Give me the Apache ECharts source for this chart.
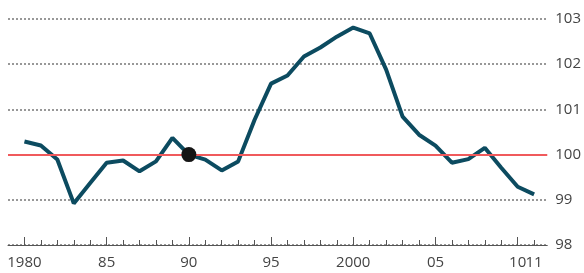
<!DOCTYPE html>
<html>
<head>
<meta charset="utf-8">
<script src="https://cdn.jsdelivr.net/npm/echarts@6/dist/echarts.min.js"></script>
<style>
  html, body { margin: 0; padding: 0; background: #fff; }
  #chart { width: 584px; height: 273px; }
</style>
</head>
<body>
<div id="chart"></div>
<script>
var years = [1980, 1981, 1982, 1983, 1984, 1985, 1986, 1987, 1988, 1989,
  1990, 1991, 1992, 1993, 1994, 1995, 1996, 1997, 1998, 1999,
  2000, 2001, 2002, 2003, 2004, 2005, 2006, 2007, 2008, 2009, 2010, 2011];
var values = [100.29, 100.2, 99.89, 98.92, 99.37, 99.82, 99.87, 99.63, 99.85, 100.37,
  100.0, 99.89, 99.65, 99.85, 100.77, 101.57, 101.75, 102.17, 102.37, 102.61,
  102.81, 102.68, 101.88, 100.84, 100.44, 100.2, 99.82, 99.9, 100.15, 99.71, 99.29, 99.12];
var labelYears = [1980, 1985, 1990, 1995, 2000, 2005, 2010];
var lastLabelYears = [2011];
var majorTicks = [1980, 1985, 1990, 1995, 2000, 2005, 2010];
var baseYear = 1990;
var baseValue = 100;

var chart = echarts.init(document.getElementById('chart'));

function yearLabel(v) {
  if (v === 1980 || v === 2000) return String(v);
  return String(v).slice(2);
}

var txt = { color: '#444', fontSize: 15, fontFamily: 'Open Sans' };

// extra axis only for the "11" label, it sits right next to "10"
function overlayAxis(extra) {
  return Object.assign({
    type: 'value',
    min: 1979,
    max: 2011.8,
    interval: 1,
    position: 'bottom',
    axisLine: { show: false },
    axisTick: { show: false },
    axisLabel: { show: false },
    splitLine: { show: false }
  }, extra);
}

chart.setOption({
  animation: false,
  grid: { left: 8, right: 31, top: 19, bottom: 28 },
  xAxis: [
    {
      type: 'value',
      min: 1979,
      max: 2011.8,
      interval: 1,
      axisLine: { show: true, lineStyle: { color: '#555', width: 1 } },
      axisTick: { show: true, inside: true, length: 5, customValues: years, lineStyle: { color: '#555' } },
      axisLabel: Object.assign({ customValues: labelYears, formatter: yearLabel, margin: 10 }, txt),
      splitLine: { show: false }
    },
    overlayAxis({
      axisTick: { show: true, inside: true, length: 8, customValues: majorTicks, lineStyle: { color: '#555' } }
    }),
    overlayAxis({
      axisLabel: Object.assign({ show: true, customValues: lastLabelYears, formatter: yearLabel, margin: 10 }, txt)
    })
  ],
  yAxis: {
    type: 'value',
    position: 'right',
    min: 98,
    max: 103,
    interval: 1,
    axisLine: { show: false },
    axisTick: { show: false },
    axisLabel: Object.assign({ margin: 8 }, txt),
    splitLine: { show: true, lineStyle: { color: '#777', type: [2, 2], width: 1.5 } }
  },
  series: [
    {
      type: 'line',
      data: years.map(function (y, i) { return [y, values[i]]; }),
      showSymbol: false,
      lineStyle: { color: '#0c4b60', width: 4 },
      markLine: {
        silent: true,
        symbol: 'none',
        label: { show: false },
        lineStyle: { color: '#f05a5c', width: 2, type: 'solid' },
        data: [{ yAxis: baseValue }]
      },
      z: 3
    },
    {
      type: 'scatter',
      data: [[baseYear, baseValue]],
      symbolSize: 15,
      itemStyle: { color: '#151515', opacity: 1 },
      z: 5
    }
  ]
});
</script>
</body>
</html>
